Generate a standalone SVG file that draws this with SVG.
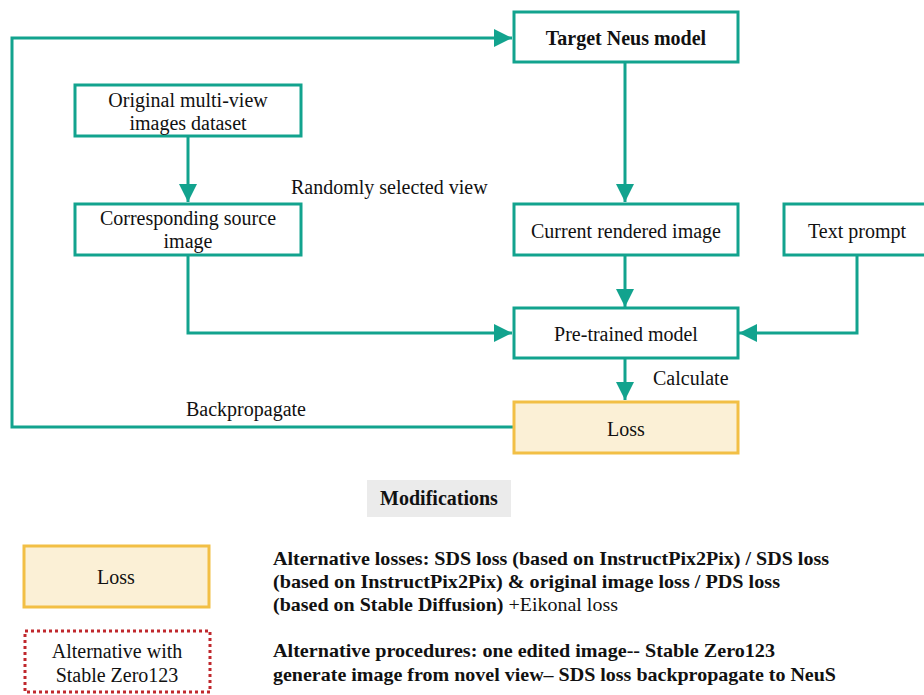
<svg xmlns="http://www.w3.org/2000/svg" width="924" height="695" viewBox="0 0 924 695">
<style>
.box{fill:#fff;stroke:#12A38E;stroke-width:3}
.loss{fill:#FBF0D6;stroke:#F2BF45;stroke-width:3}
.t{font-family:"Liberation Serif","Times New Roman",serif;font-size:20px;fill:#111;text-anchor:middle}
.l{font-family:"Liberation Serif","Times New Roman",serif;font-size:20px;fill:#111}
.b{font-family:"Liberation Serif","Times New Roman",serif;font-size:19px;font-weight:bold;fill:#111}
.c{fill:none;stroke:#12A38E;stroke-width:3}
</style>
<defs>
<marker id="ah" viewBox="0 0 10 10" refX="10" refY="5" markerWidth="6" markerHeight="6" markerUnits="strokeWidth" orient="auto">
<path d="M0,0 L10,5 L0,10 z" fill="#12A38E"/>
</marker>
</defs>
<g id="connectors">
<path class="c" d="M513,427 H12 V38 H512" marker-end="url(#ah)"/>
<path class="c" d="M188,137 V202" marker-end="url(#ah)"/>
<path class="c" d="M188,255 V333 H512" marker-end="url(#ah)"/>
<path class="c" d="M625,62 V202" marker-end="url(#ah)"/>
<path class="c" d="M625,255 V307" marker-end="url(#ah)"/>
<path class="c" d="M857,255 V333 H739" marker-end="url(#ah)"/>
<path class="c" d="M625,358 V400" marker-end="url(#ah)"/>
</g>
<g id="labels">
<text class="l" x="291" y="194">Randomly selected view</text>
<text class="l" x="653" y="385">Calculate</text>
<text class="l" x="186" y="416">Backpropagate</text>
</g>
<g id="target"><rect class="box" x="514" y="12" width="224" height="50"/><text class="t" x="626" y="45" font-weight="bold">Target  Neus model</text></g>
<g id="original"><rect class="box" x="75" y="85" width="226" height="51"/><text class="t" x="188" y="107">Original multi-view</text><text class="t" x="188" y="130">images dataset</text></g>
<g id="source"><rect class="box" x="75" y="204" width="226" height="51"/><text class="t" x="188" y="225">Corresponding source</text><text class="t" x="188" y="248">image</text></g>
<g id="current"><rect class="box" x="514" y="204" width="224" height="51"/><text class="t" x="626" y="238">Current rendered image</text></g>
<g id="prompt"><rect class="box" x="784" y="204" width="146" height="51"/><text class="t" x="857" y="238">Text prompt</text></g>
<g id="pretrained"><rect class="box" x="514" y="308" width="224" height="50"/><text class="t" x="626" y="341">Pre-trained model</text></g>
<g id="loss"><rect class="loss" x="514" y="402" width="224" height="51"/><text class="t" x="626" y="436">Loss</text></g>
<g id="modifications"><rect x="367" y="480" width="144" height="37" fill="#EBEBEB"/><text class="t" x="439" y="505" font-weight="bold" font-size="19">Modifications</text></g>
<g id="legend-loss"><rect class="loss" x="24" y="546" width="185" height="61"/><text class="t" x="116" y="584">Loss</text></g>
<g id="legend-alt"><rect x="25" y="631" width="185" height="61" fill="#fff" stroke="#C0282D" stroke-width="3" stroke-dasharray="3,3"/><text class="t" x="117" y="658">Alternative with</text><text class="t" x="117" y="682">Stable Zero123</text></g>
<g id="notes">
<text class="b" x="273" y="565" textLength="556" lengthAdjust="spacingAndGlyphs">Alternative losses: SDS loss (based on InstructPix2Pix) / SDS loss</text>
<text class="b" x="273" y="588" textLength="507" lengthAdjust="spacingAndGlyphs">(based on InstructPix2Pix) &amp; original image loss / PDS loss</text>
<text class="b" x="273" y="611" textLength="345" lengthAdjust="spacingAndGlyphs">(based on Stable Diffusion) <tspan font-weight="normal">+Eikonal loss</tspan></text>
<text class="b" x="273" y="657" textLength="502" lengthAdjust="spacingAndGlyphs">Alternative procedures: one edited image-- Stable Zero123</text>
<text class="b" x="273" y="681" textLength="563" lengthAdjust="spacingAndGlyphs">generate image from novel view– SDS loss backpropagate to NeuS</text>
</g>
</svg>
